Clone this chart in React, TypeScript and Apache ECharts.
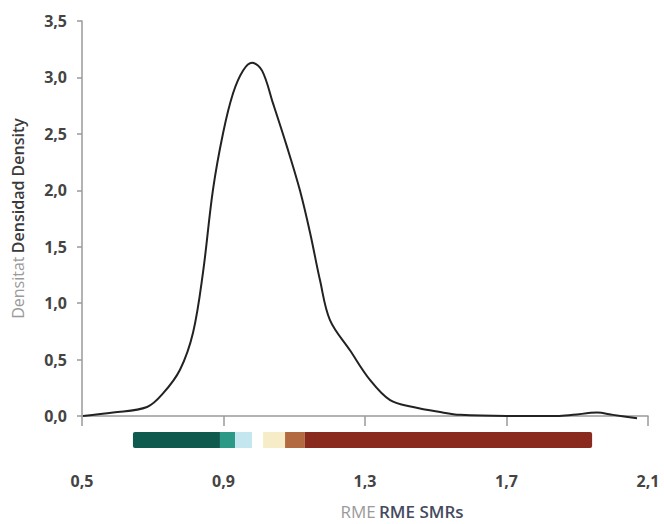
import React, { useEffect, useRef } from "react";
import * as echarts from "echarts";

const densityX = [0.503, 0.588, 0.684, 0.729, 0.777, 0.814, 0.842, 0.870, 0.899, 0.927, 0.955, 0.981, 1.009, 1.040, 1.080, 1.116, 1.145, 1.173, 1.201, 1.258, 1.314, 1.371, 1.436, 1.512, 1.569, 1.701, 1.843, 1.888, 1.956, 2.001, 2.069];
const densityY = [0.0, 0.03, 0.08, 0.20, 0.41, 0.74, 1.27, 2.00, 2.51, 2.86, 3.06, 3.13, 3.06, 2.77, 2.38, 2.00, 1.62, 1.20, 0.85, 0.58, 0.32, 0.14, 0.08, 0.035, 0.01, 0.0, 0.0, 0.01, 0.03, 0.01, -0.02];

const barStarts = [0.644, 0.890, 0.933, 0.981, 1.012, 1.074, 1.130];
const barEnds = [0.890, 0.933, 0.981, 1.012, 1.074, 1.130, 1.942];
const barColors = ["#0e5a4f", "#2b9985", "#c4e6ee", "#ffffff", "#f6ecc8", "#b36a40", "#8a2a1f"];

const xTicks = [0.5, 0.9, 1.3, 1.7, 2.1];

const fmt = (v: number) => v.toFixed(1).replace(".", ",");

export default function App() {
  const ref = useRef<HTMLDivElement>(null);
  useEffect(() => {
    document.body.style.margin = "0";
    if (!ref.current) return;
    const chart = echarts.init(ref.current, null, { renderer: "svg" });
    const labelStyle = { color: "#444444", fontSize: 16, fontWeight: 700, fontFamily: "Open Sans" };
    chart.setOption({
      animation: false,
      backgroundColor: "#ffffff",
      grid: [
        { left: 82, top: 21, width: 566, height: 395 },
        { left: 82, top: 432, width: 566, height: 16 },
      ],
      xAxis: [
        {
          gridIndex: 0,
          type: "value",
          min: 0.5,
          max: 2.1,
          offset: 38,
          splitLine: { show: false },
          axisLine: { show: true, lineStyle: { color: "#9a9a9a", width: 1.5 } },
          axisTick: { show: true, inside: false, length: 10, customValues: xTicks, lineStyle: { color: "#9a9a9a", width: 1.5 } },
          axisLabel: { ...labelStyle, margin: 19, customValues: xTicks, formatter: (v: number) => fmt(v), showMaxLabel: true, showMinLabel: true },
        },
        {
          gridIndex: 1,
          type: "value",
          min: 0.5,
          max: 2.1,
          show: false,
        },
      ],
      yAxis: [
        {
          gridIndex: 0,
          type: "value",
          min: 0,
          max: 3.5,
          interval: 0.5,
          splitLine: { show: false },
          axisLine: { show: true, lineStyle: { color: "#9a9a9a", width: 1.5 } },
          axisTick: { show: true, length: 5, lineStyle: { color: "#9a9a9a", width: 1.5 } },
          axisLabel: { ...labelStyle, margin: 15, formatter: (v: number) => fmt(v) },
          name: "{a|Densitat} {b|Densidad Density}",
          nameLocation: "middle",
          nameGap: 56,
          nameTextStyle: {
            rich: {
              a: { color: "#9a9a9a", fontSize: 16, fontFamily: "Open Sans" },
              b: { color: "#3a3a3a", fontSize: 16, fontWeight: 600, fontFamily: "Open Sans" },
            },
          },
        },
        {
          gridIndex: 1,
          type: "category",
          data: ["bar"],
          show: false,
        },
      ],
      graphic: [
        {
          type: "text",
          x: 402,
          y: 511,
          style: {
            text: "{a|RME} {b|RME SMRs}",
            align: "center",
            verticalAlign: "middle",
            rich: {
              a: { fill: "#9a9a9a", fontSize: 17, fontFamily: "Open Sans" },
              b: { fill: "#454a60", fontSize: 17, fontWeight: 600, fontFamily: "Open Sans" },
            },
          },
        },
      ],
      series: [
        {
          type: "line",
          xAxisIndex: 0,
          yAxisIndex: 0,
          data: densityX.map((x, i) => [x, densityY[i]]),
          smooth: 0.35,
          symbol: "none",
          clip: false,
          lineStyle: { color: "#222222", width: 2 },
        },
        {
          type: "custom",
          xAxisIndex: 1,
          yAxisIndex: 1,
          data: barStarts.map((s, i) => [s, barEnds[i], 0]),
          encode: { x: [0, 1], y: 2 },
          renderItem: (params: any, api: any) => {
            const s = api.coord([api.value(0), 0]);
            const e = api.coord([api.value(1), 0]);
            const h = api.size([0, 1])[1];
            const i = params.dataIndex;
            const r =
              i === 0 ? [2, 0, 0, 2] : i === barStarts.length - 1 ? [0, 2, 2, 0] : 0;
            return {
              type: "rect",
              shape: { x: s[0], y: s[1] - h / 2, width: e[0] - s[0], height: h, r },
              style: { fill: barColors[i] },
            };
          },
        },
      ],
    });
    return () => chart.dispose();
  }, []);
  return <div ref={ref} style={{ width: 664, height: 524 }} />;
}
